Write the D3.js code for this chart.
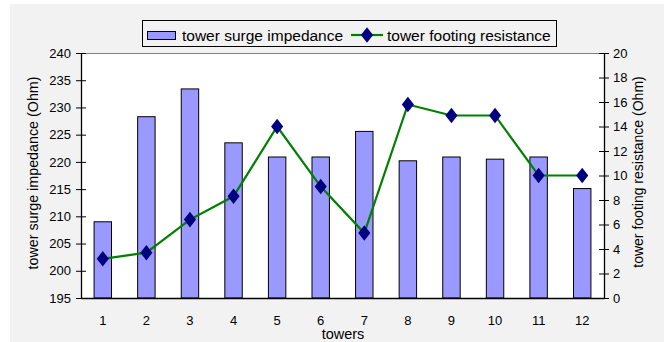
<!DOCTYPE html>
<html>
<head>
<meta charset="utf-8">
<script src="https://cdn.jsdelivr.net/npm/d3@7/dist/d3.min.js"></script>
<style>
  html, body { margin: 0; padding: 0; background: #ffffff; }
  svg { display: block; font-family: "Liberation Sans", Arial, sans-serif; }
</style>
</head>
<body>
<svg id="chart" width="664" height="342"></svg>
<script>
// Tower data
const towers = ["1", "2", "3", "4", "5", "6", "7", "8", "9", "10", "11", "12"];
const surgeImpedance = [209.0, 228.3, 233.4, 223.5, 220.9, 220.9, 225.6, 220.2, 220.9, 220.5, 220.9, 215.1];
const footingResistance = [3.2, 3.7, 6.4, 8.3, 14.0, 9.1, 5.3, 15.8, 14.9, 14.9, 10.0, 10.0];
const leftTicks = [195, 200, 205, 210, 215, 220, 225, 230, 235, 240];
const rightTicks = [0, 2, 4, 6, 8, 10, 12, 14, 16, 18, 20];

const svg = d3.select("#chart");
const W = 664, H = 342;
const plot = { left: 81, right: 604, top: 53, bottom: 298 };

// Chart area background
svg.append("rect").attr("x", 10).attr("y", 4).attr("width", W - 10).attr("height", H - 4)
  .attr("fill", "#f2f2f2");
svg.append("rect").attr("x", plot.left).attr("y", plot.top)
  .attr("width", plot.right - plot.left).attr("height", plot.bottom - plot.top)
  .attr("fill", "#ffffff");

const x = d3.scaleBand().domain(towers).range([plot.left, plot.right]).padding(0);
const yL = d3.scaleLinear().domain([195, 240]).range([plot.bottom, plot.top]);
const yR = d3.scaleLinear().domain([0, 20]).range([plot.bottom, plot.top]);

// Top border of plot area
svg.append("line").attr("x1", plot.left).attr("x2", plot.right)
  .attr("y1", plot.top + 0.5).attr("y2", plot.top + 0.5)
  .attr("stroke", "#808080").attr("stroke-width", 1);

// Bars
const barW = x.bandwidth() * 0.4;
svg.append("g").selectAll("rect").data(towers).join("rect")
  .attr("x", d => x(d) + (x.bandwidth() - barW) / 2)
  .attr("y", (d, i) => yL(surgeImpedance[i]))
  .attr("width", barW)
  .attr("height", (d, i) => yL(195) - yL(surgeImpedance[i]))
  .attr("fill", "#9999ff")
  .attr("stroke", "#000000")
  .attr("stroke-width", 1);

// Left axis
const axL = svg.append("g").attr("transform", `translate(${plot.left},0)`)
  .call(d3.axisLeft(yL).tickValues(leftTicks).tickSize(5).tickSizeOuter(0));
axL.selectAll(".tick line").attr("x1", 5).attr("x2", -5);
axL.selectAll(".tick text").attr("x", -10);

// Right axis
const axR = svg.append("g").attr("transform", `translate(${plot.right},0)`)
  .call(d3.axisRight(yR).tickValues(rightTicks).tickSize(5).tickSizeOuter(0));
axR.selectAll(".tick line").attr("x1", -5).attr("x2", 5);
axR.selectAll(".tick text").attr("x", 9);

// Bottom axis
const axB = svg.append("g").attr("transform", `translate(0,${plot.bottom})`)
  .call(d3.axisBottom(x).tickSize(0).tickSizeOuter(0));
axB.selectAll(".tick text").attr("dy", "0").attr("y", 27);

[axL, axR, axB].forEach(a => {
  a.selectAll("path.domain").attr("stroke", "#000").attr("stroke-width", 1.3);
  a.selectAll(".tick line").attr("stroke", "#000");
  a.selectAll("text").attr("font-size", 13).attr("fill", "#000")
    .attr("font-family", "Liberation Sans, Arial, sans-serif");
});

// Footing resistance line
const cx = d => x(d) + x.bandwidth() / 2;
const line = d3.line().x((d, i) => cx(towers[i])).y(d => yR(d));
svg.append("path").datum(footingResistance)
  .attr("d", line).attr("fill", "none")
  .attr("stroke", "#008000").attr("stroke-width", 2.2);

const diamond = d3.symbol().type(d3.symbolDiamond).size(70);
svg.append("g").selectAll("path").data(footingResistance).join("path")
  .attr("transform", (d, i) => `translate(${cx(towers[i])},${yR(d)}) scale(1.35,1)`)
  .attr("d", diamond).attr("fill", "#000080");

// Axis titles
svg.append("text").attr("x", 343).attr("y", 339)
  .attr("text-anchor", "middle").attr("font-size", 14.5).text("towers");
svg.append("text").attr("transform", "translate(38,173) rotate(-90)")
  .attr("text-anchor", "middle").attr("font-size", 14.3).text("tower surge impedance (Ohm)");
svg.append("text").attr("transform", "translate(643,172) rotate(-90)")
  .attr("text-anchor", "middle").attr("font-size", 14).text("tower footing resistance (Ohm)");

// Legend
const lg = svg.append("g");
lg.append("rect").attr("x", 142.5).attr("y", 20.5).attr("width", 414).attr("height", 26)
  .attr("fill", "none").attr("stroke", "#000").attr("stroke-width", 1);
lg.append("rect").attr("x", 147.5).attr("y", 31.5).attr("width", 28).attr("height", 8)
  .attr("fill", "#9999ff").attr("stroke", "#000");
lg.append("text").attr("x", 182).attr("y", 40.5).attr("font-size", 15.5).text("tower surge impedance");
lg.append("line").attr("x1", 351).attr("x2", 383).attr("y1", 35).attr("y2", 35)
  .attr("stroke", "#008000").attr("stroke-width", 2.2);
lg.append("path").attr("transform", "translate(367,35) scale(1.35,1)")
  .attr("d", diamond).attr("fill", "#000080");
lg.append("text").attr("x", 387).attr("y", 40.5).attr("font-size", 15.5).text("tower footing resistance");
</script>
</body>
</html>
